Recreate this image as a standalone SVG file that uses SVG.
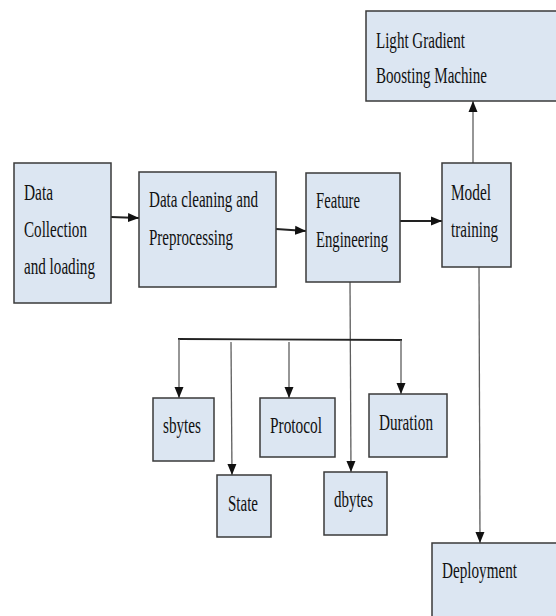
<svg xmlns="http://www.w3.org/2000/svg" width="556" height="616" viewBox="0 0 556 616">
<style>
.box{fill:#dce6f2;stroke:#3a3a3a;stroke-width:1.5}
.t{font-family:"Liberation Serif","Times New Roman",serif;font-size:23px;fill:#111}
.c{stroke:#222;stroke-width:1.8;fill:none}
.g{stroke:#5e5e5e;stroke-width:1.3;fill:none}
</style>
<defs>
<marker id="ah" markerUnits="userSpaceOnUse" markerWidth="12" markerHeight="10" viewBox="0 0 12 10" refX="11" refY="5" orient="auto">
<path d="M0,0.5 L11,5 L0,9.5 Z" fill="#111"/>
</marker>
</defs>
<rect width="556" height="616" fill="#ffffff"/>
<g id="connectors">
<line class="c" x1="111" y1="217" x2="139" y2="218" marker-end="url(#ah)"/>
<line class="c" x1="276" y1="229" x2="306" y2="231" marker-end="url(#ah)"/>
<line class="c" x1="400" y1="221" x2="442" y2="221" marker-end="url(#ah)"/>
<line class="g" x1="473" y1="163" x2="473" y2="101" marker-end="url(#ah)"/>
<line class="g" x1="350" y1="282" x2="351" y2="472" marker-end="url(#ah)"/>
<line class="g" x1="479" y1="267" x2="480" y2="543" marker-end="url(#ah)"/>
<line class="c" x1="178" y1="339" x2="402" y2="340"/>
<line class="g" x1="179" y1="339" x2="179" y2="398" marker-end="url(#ah)"/>
<line class="g" x1="231" y1="342" x2="232" y2="475" marker-end="url(#ah)"/>
<line class="g" x1="289" y1="342" x2="289" y2="398" marker-end="url(#ah)"/>
<line class="g" x1="401" y1="340" x2="401" y2="394" marker-end="url(#ah)"/>
</g>
<g id="data-collection">
<rect class="box" x="14" y="163" width="97" height="140"/>
<text class="t" x="24" y="200" textLength="29" lengthAdjust="spacingAndGlyphs">Data</text>
<text class="t" x="24" y="237" textLength="63" lengthAdjust="spacingAndGlyphs">Collection</text>
<text class="t" x="24" y="274" textLength="71" lengthAdjust="spacingAndGlyphs">and loading</text>
</g>
<g id="data-cleaning">
<rect class="box" x="139" y="172" width="137" height="115"/>
<text class="t" x="149" y="207" textLength="109" lengthAdjust="spacingAndGlyphs">Data cleaning and</text>
<text class="t" x="149" y="245" textLength="84" lengthAdjust="spacingAndGlyphs">Preprocessing</text>
</g>
<g id="feature-engineering">
<rect class="box" x="306" y="173" width="94" height="109"/>
<text class="t" x="316" y="208" textLength="44" lengthAdjust="spacingAndGlyphs">Feature</text>
<text class="t" x="316" y="247" textLength="72" lengthAdjust="spacingAndGlyphs">Engineering</text>
</g>
<g id="model-training">
<rect class="box" x="442" y="163" width="69" height="104"/>
<text class="t" x="451" y="200" textLength="40" lengthAdjust="spacingAndGlyphs">Model</text>
<text class="t" x="451" y="237" textLength="47" lengthAdjust="spacingAndGlyphs">training</text>
</g>
<g id="lgbm">
<rect class="box" x="366" y="11" width="195" height="90"/>
<text class="t" x="376" y="48" textLength="89" lengthAdjust="spacingAndGlyphs">Light Gradient</text>
<text class="t" x="376" y="83" textLength="111" lengthAdjust="spacingAndGlyphs">Boosting Machine</text>
</g>
<g id="sbytes">
<rect class="box" x="153" y="398" width="61" height="63"/>
<text class="t" x="163" y="433" textLength="38" lengthAdjust="spacingAndGlyphs">sbytes</text>
</g>
<g id="state">
<rect class="box" x="217" y="475" width="54" height="62"/>
<text class="t" x="228" y="511" textLength="30" lengthAdjust="spacingAndGlyphs">State</text>
</g>
<g id="protocol">
<rect class="box" x="260" y="398" width="75" height="59"/>
<text class="t" x="270" y="433" textLength="52" lengthAdjust="spacingAndGlyphs">Protocol</text>
</g>
<g id="dbytes">
<rect class="box" x="324" y="472" width="63" height="63"/>
<text class="t" x="334" y="507" textLength="39" lengthAdjust="spacingAndGlyphs">dbytes</text>
</g>
<g id="duration">
<rect class="box" x="369" y="394" width="78" height="63"/>
<text class="t" x="379" y="430" textLength="54" lengthAdjust="spacingAndGlyphs">Duration</text>
</g>
<g id="deployment">
<rect class="box" x="432" y="543" width="130" height="80"/>
<text class="t" x="442" y="578" textLength="75" lengthAdjust="spacingAndGlyphs">Deployment</text>
</g>
</svg>
